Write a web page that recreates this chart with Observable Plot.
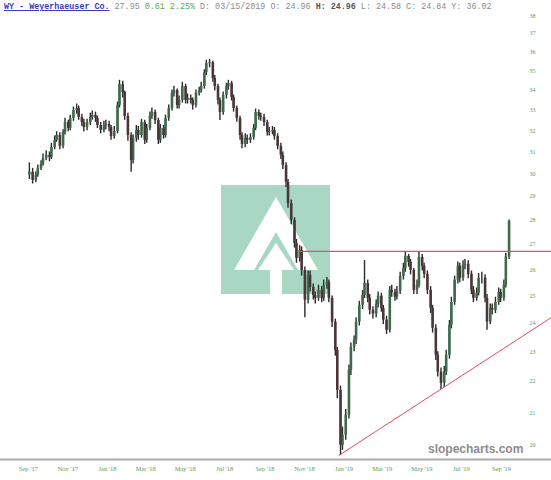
<!DOCTYPE html>
<html><head><meta charset="utf-8">
<script src="https://cdn.jsdelivr.net/npm/d3@7"></script>
<script src="https://cdn.jsdelivr.net/npm/@observablehq/plot@0.6"></script>
<style>
body{margin:0;background:#fff;}
#wrap{position:relative;width:551px;height:480px;overflow:hidden;background:#fff;}
#wm{position:absolute;left:221px;top:185px;width:109px;height:109px;background:#a8d8c3;}
#chart{position:absolute;left:0;top:0;}
#title{position:absolute;left:4px;top:2px;font:8.4px "Liberation Mono",monospace;color:#8a8a8a;white-space:pre;line-height:10px;}
#brand{position:absolute;left:428px;top:442px;font:bold 12px "Liberation Sans",sans-serif;color:#8c8c8c;}
</style></head>
<body>
<div id="wrap">
  <div id="wm"><svg width="109" height="109" viewBox="0 0 109 109">
    <polygon fill="#fff" points="55,12 13,85 33,85 55,47 77,85 97,85"/>
    <polygon fill="#fff" points="55,58 37,85 49,85 49,109 61,109 61,85 73,85"/>
  </svg></div>
  <div id="chart"></div>
  <div id="title"><span style="color:#3b3bbf;font-weight:bold;text-decoration:underline">WY - Weyerhaeuser Co.</span> 27.95 <span style="color:#5aa65a">0.61 2.25%</span> D: 03/15/2019 O: 24.96 <b style="color:#555">H: 24.96</b> L: 24.58 C: 24.84 Y: 36.02</div>
  <div id="brand">slopecharts.com</div>
</div>
<script>
// Each candle covers 3 trading days starting 2017-09-01
const startDate = "2017-09-01";
const binDays = 3;
const firstOpen = 29.95;
const close = [
 30.07,29.71,29.93,30.25,30.43,30.70,30.84,30.75,31.21,31.54,
 31.77,31.26,31.91,32.39,32.11,32.59,32.98,33.08,32.64,32.39,
 32.15,32.39,32.64,32.74,32.59,32.25,32.01,32.25,32.30,32.15,
 31.72,31.96,33.23,34.28,33.88,32.69,31.77,30.61,31.63,32.01,
 31.77,32.39,31.54,32.11,32.69,32.88,32.49,31.54,32.11,31.77,
 32.59,33.08,33.83,33.98,33.23,33.48,34.18,33.48,33.58,33.48,
 33.23,33.83,33.98,34.18,34.90,35.37,35.42,34.59,34.18,33.48,
 32.88,33.73,34.18,34.33,33.63,33.08,32.59,31.77,31.35,31.63,
 31.54,31.68,32.11,32.88,32.69,32.64,32.39,31.91,31.96,32.01,
 31.72,31.26,30.84,30.38,29.62,28.70,27.99,27.04,26.44,26.76,
 25.97,24.84,25.78,25.32,25.02,24.91,25.21,24.91,25.40,25.51,
 24.91,24.04,23.05,21.71,20.00,20.30,20.92,22.37,23.16,23.40,
 24.04,24.65,25.02,25.47,24.91,24.47,24.33,24.69,24.99,24.54,
 24.11,23.75,25.21,25.13,24.95,25.17,25.74,26.05,26.52,26.28,
 25.97,25.21,25.40,26.48,26.13,25.82,25.21,24.54,23.82,22.88,
 22.31,21.94,22.31,22.88,23.93,24.76,25.59,26.13,25.67,26.17,
 26.21,25.82,25.21,24.91,25.10,25.67,25.67,24.91,24.04,24.54,
 24.47,24.76,25.13,24.91,25.40,26.50,27.95
];
const high = [
 30.50,30.25,30.10,30.40,30.60,30.90,31.05,31.00,31.40,31.75,
 31.95,31.90,32.05,32.60,32.50,32.75,33.15,33.30,33.20,32.80,
 32.55,32.55,32.85,32.95,32.90,32.70,32.40,32.45,32.50,32.45,
 32.25,32.20,33.40,34.50,34.45,33.95,32.85,31.90,31.80,32.25,
 32.20,32.55,32.50,32.30,32.90,33.10,33.00,32.60,32.30,32.25,
 32.75,33.25,34.00,34.20,34.05,33.70,34.40,34.30,33.80,33.75,
 33.60,34.00,34.15,34.40,35.05,35.55,35.60,35.50,34.75,34.30,
 33.60,33.90,34.35,34.50,34.45,33.75,33.20,32.70,31.90,31.85,
 31.80,31.85,32.30,33.05,33.00,32.85,32.80,32.50,32.15,32.20,
 32.15,31.85,31.40,31.00,30.50,29.75,28.85,28.10,27.20,26.95,
 26.90,26.10,25.95,25.95,25.45,25.15,25.40,25.35,25.60,25.70,
 25.60,25.00,24.15,23.15,21.85,20.55,21.10,22.55,23.30,23.55,
 24.20,24.80,25.20,26.36,25.60,25.05,24.60,24.85,25.15,25.10,
 24.65,24.25,25.35,25.40,25.25,25.35,25.90,26.25,26.72,26.60,
 26.40,26.05,25.60,26.72,26.60,26.25,25.95,25.35,24.65,23.95,
 23.00,22.45,22.50,23.05,24.10,24.95,25.75,26.30,26.25,26.35,
 26.40,26.35,25.95,25.35,25.30,25.85,25.90,25.80,25.05,24.70,
 24.70,24.95,25.30,25.25,25.60,26.65,28.00
];
const low = [
 29.75,29.55,29.60,29.85,30.15,30.35,30.60,30.55,30.65,31.10,
 31.45,31.10,31.15,31.80,31.95,32.00,32.45,32.80,32.50,32.20,
 31.95,32.00,32.25,32.50,32.40,32.10,31.85,31.90,32.05,31.95,
 31.55,31.60,31.85,33.10,33.60,32.50,31.50,30.07,30.45,31.45,
 31.55,31.65,31.35,31.40,32.00,32.55,32.30,31.35,31.40,31.60,
 31.65,32.45,32.95,33.65,33.05,33.05,33.35,33.30,33.30,33.30,
 33.00,33.10,33.70,33.85,34.05,34.75,35.15,34.40,33.95,33.25,
 32.49,32.75,33.55,34.00,33.45,32.90,32.40,31.55,31.15,31.20,
 31.35,31.40,31.55,32.00,32.50,32.45,32.20,31.75,31.75,31.80,
 31.55,31.10,30.65,30.20,29.40,28.50,27.80,26.85,26.25,26.30,
 25.75,24.20,24.70,25.15,24.85,24.70,24.80,24.75,24.80,25.25,
 24.75,23.85,22.85,21.45,19.70,19.85,20.15,20.80,22.20,23.00,
 23.25,23.90,24.50,24.90,24.75,24.30,24.15,24.20,24.55,24.40,
 23.95,23.60,23.65,24.95,24.80,24.85,25.05,25.60,25.90,26.10,
 25.80,25.05,25.05,25.30,25.95,25.65,25.05,24.35,23.65,22.70,
 22.15,21.74,21.80,22.20,22.75,23.80,24.65,25.45,25.50,25.55,
 26.00,25.65,25.05,24.75,24.80,25.00,25.45,24.75,23.75,23.95,
 24.30,24.35,24.65,24.75,24.80,25.30,26.40
];
const xTicks = ["2017-09-01","2017-11-01","2018-01-01","2018-03-01","2018-05-01","2018-07-01",
  "2018-09-01","2018-11-01","2019-01-01","2019-03-01","2019-05-01","2019-07-01","2019-09-01"];
const yTicks = [20,21,22,23,24,25,26,27,28,29,30,31,32,33,34,35,36,37,38];
const resistance = [{date:"2018-10-22", price:26.72},{date:"2019-11-17", price:26.72}];
const trendline = [{date:"2018-12-24", price:19.70},{date:"2019-11-17", price:24.21}];

// trading-day calendar (weekdays)
const days = [];
for (let d = new Date(startDate); days.length < close.length * binDays; d = new Date(+d + 864e5)) {
  const w = d.getUTCDay();
  if (w !== 0 && w !== 6) days.push(d);
}
const candles = close.map((c, i) => {
  const o = i ? close[i - 1] : firstOpen;
  return {date: days[i * binDays], open: o, close: c,
          high: Math.max(high[i], o, c), low: Math.min(low[i], o, c)};
});
const up = candles.filter(d => d.close >= d.open);
const down = candles.filter(d => d.close < d.open);
const parse = d => new Date(d);

const chart = Plot.plot({
  width: 551, height: 480,
  marginTop: 0, marginBottom: 21, marginLeft: 0, marginRight: 0,
  style: {background: "transparent", color: "#5a9a5a", fontFamily: "Liberation Serif, serif", fontSize: "6.5px"},
  x: {type: "utc", domain: [new Date("2017-07-20"), new Date("2019-11-17")]},
  y: {type: "log", domain: [19.58, 38.87], axis: null},
  marks: [
    Plot.frame({anchor: "bottom", stroke: "#aaa", strokeWidth: 2}),
    Plot.ruleX(candles, {x: "date", y1: "low", y2: "high", stroke: "#2a2a2a", strokeWidth: 1.4, dx: 1}),
    Plot.ruleX(up, {x: "date", y1: "open", y2: "close", stroke: "#3c6a4a", strokeWidth: 2.6, dx: 1}),
    Plot.ruleX(down, {x: "date", y1: "open", y2: "close", stroke: "#4a3636", strokeWidth: 2.6, dx: 1}),
    Plot.line(resistance, {x: d => parse(d.date), y: "price", stroke: "#ec4a60", strokeWidth: 1.2}),
    Plot.line(trendline, {x: d => parse(d.date), y: "price", stroke: "#e8475e", strokeWidth: 1}),
    Plot.axisX({ticks: xTicks.map(parse), tickFormat: d3.utcFormat("%b '%y"), tickSize: 0, tickPadding: 7, fill: "#5a9a5a", fontSize: 6.5}),
    Plot.text(yTicks, {y: d => d, text: d => String(d), frameAnchor: "right", dx: -16, fill: "#5a9a5a", fontSize: 6})
  ]
});
document.getElementById("chart").appendChild(chart);
</script>
</body></html>
